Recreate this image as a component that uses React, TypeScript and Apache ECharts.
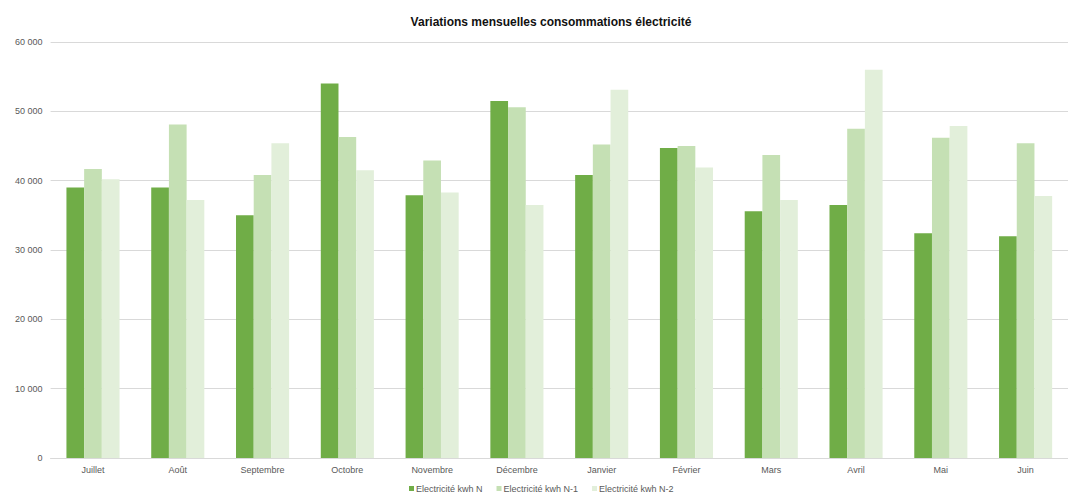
import React, { useEffect, useRef } from "react";
import * as echarts from "echarts";

const months = ["Juillet", "Août", "Septembre", "Octobre", "Novembre", "Décembre", "Janvier", "Février", "Mars", "Avril", "Mai", "Juin"];
const seriesNames = ["Electricité kwh N", "Electricité kwh N-1", "Electricité kwh N-2"];
const valuesN = [39000, 39000, 35000, 54000, 37900, 51500, 40800, 44700, 35600, 36500, 32400, 32000];
const valuesN1 = [41700, 48100, 40800, 46300, 42900, 50600, 45200, 45000, 43700, 47500, 46200, 45400];
const valuesN2 = [40200, 37200, 45400, 41500, 38300, 36500, 53100, 41900, 37200, 56000, 47900, 37800];
const colors = ["#70ad47", "#c5e0b4", "#e2efda"];

const fmt = (v: number) => {
  const s = String(Math.round(v));
  return s.replace(/\B(?=(\d{3})+(?!\d))/g, " ");
};

export default function App() {
  const ref = useRef<HTMLDivElement>(null);
  useEffect(() => {
    if (!ref.current) return;
    const chart = echarts.init(ref.current, undefined, { renderer: "svg" });
    const font = "'Liberation Sans', Arial, sans-serif";
    const data = [valuesN, valuesN1, valuesN2];
    chart.setOption({
      animation: false,
      title: {
        text: "Variations mensuelles consommations électricité",
        left: 546,
        textAlign: "center",
        top: 11,
        textStyle: { fontFamily: font, fontSize: 12, fontWeight: "bold", color: "#111" },
      },
      legend: {
        data: seriesNames,
        left: 409,
        top: 484,
        padding: 0,
        itemWidth: 5,
        itemHeight: 5,
        itemGap: 14,
        icon: "rect",
        textStyle: { fontFamily: font, fontSize: 9, color: "#595959", padding: [0, 0, 0, -3] },
      },
      grid: { left: 50.6, right: -7.6, top: 42, bottom: 38, containLabel: false },
      xAxis: {
        type: "category",
        data: months,
        axisLine: { lineStyle: { color: "#d9d9d9" } },
        axisTick: { show: false },
        axisLabel: { fontFamily: font, fontSize: 9, color: "#595959", margin: 7 },
      },
      yAxis: {
        type: "value",
        min: 0,
        max: 60000,
        interval: 10000,
        axisLine: { show: false },
        axisTick: { show: false },
        splitLine: { lineStyle: { color: "#d9d9d9" } },
        axisLabel: { fontFamily: font, fontSize: 9, color: "#595959", margin: 8, formatter: fmt },
      },
      series: data.map((d, i) => ({
        name: seriesNames[i],
        type: "bar",
        data: d,
        barWidth: 17.7,
        barGap: "0%",
        itemStyle: { color: colors[i] },
      })),
    });
    return () => chart.dispose();
  }, []);
  return <div ref={ref} style={{ width: 1068, height: 496, position: "absolute", left: 0, top: 0 }} />;
}
